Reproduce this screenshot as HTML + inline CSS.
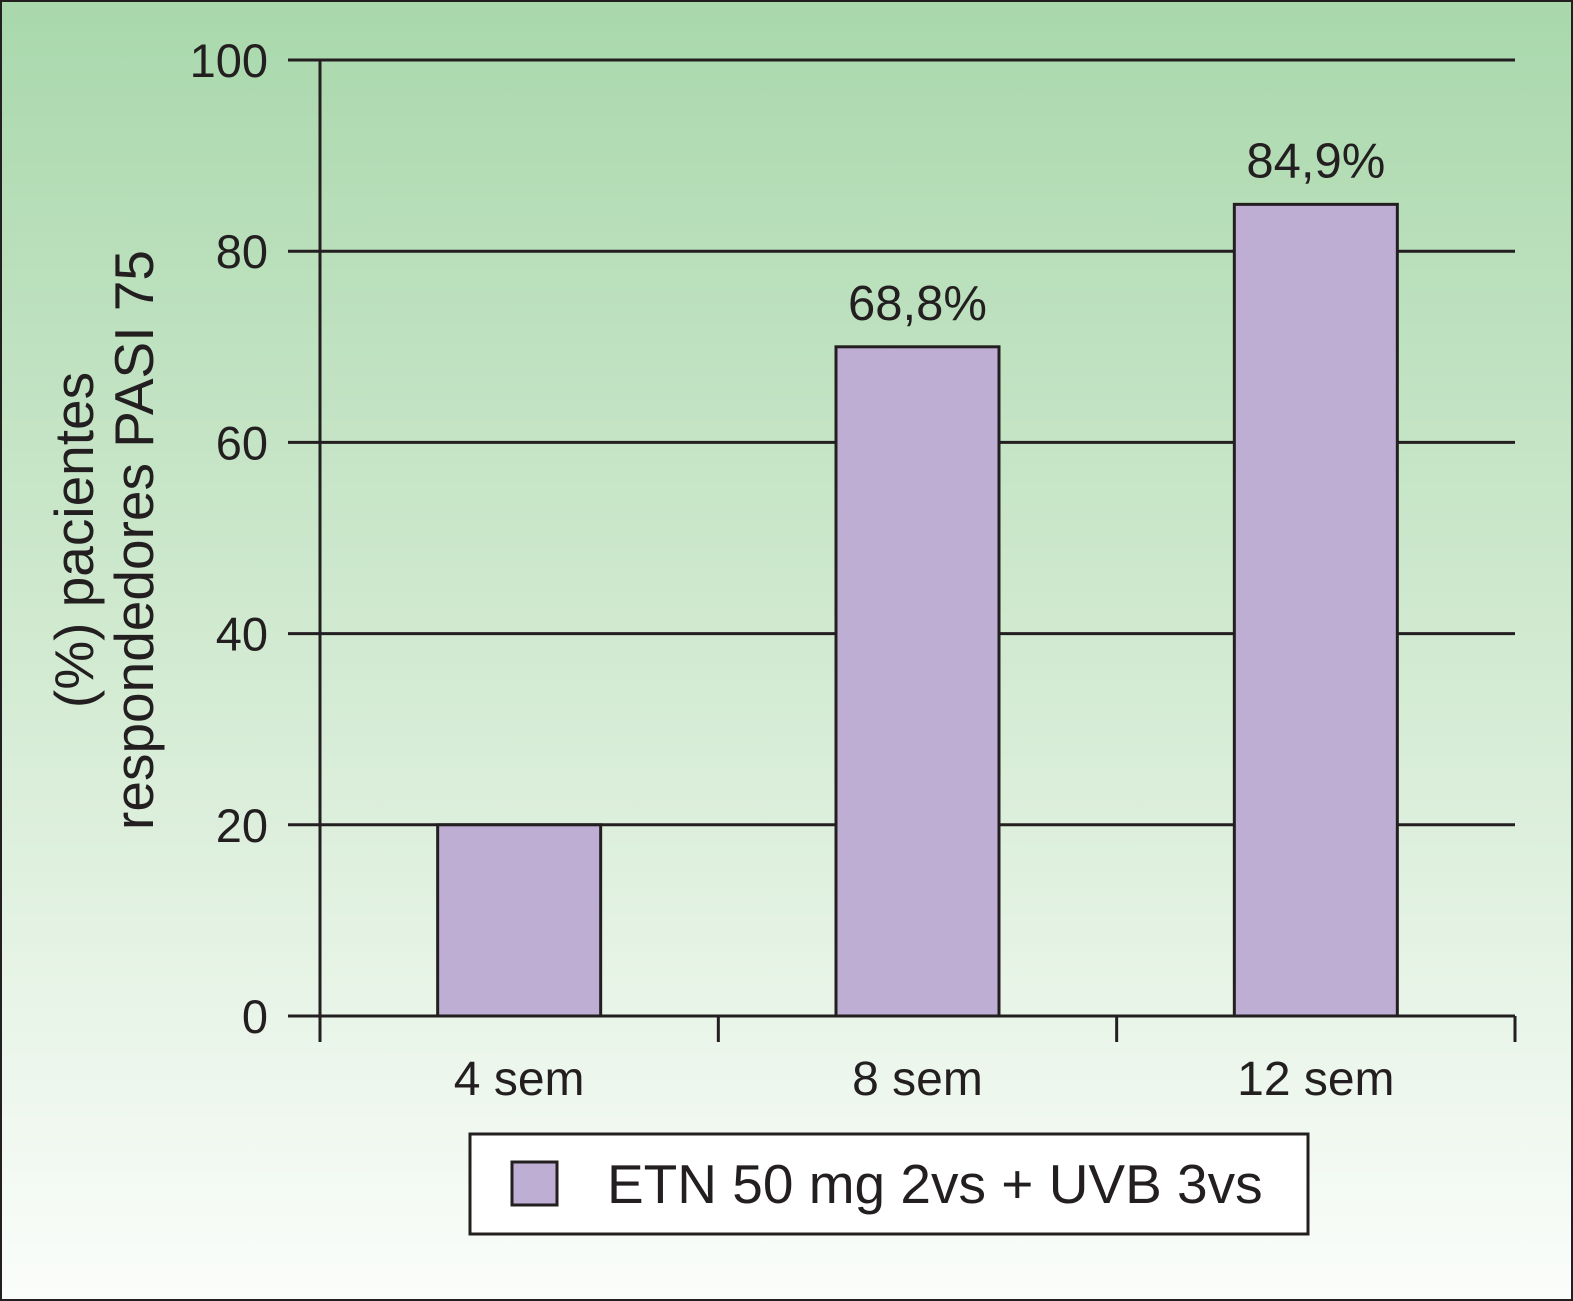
<!DOCTYPE html>
<html><head><meta charset="utf-8"><style>
html,body{margin:0;padding:0;}
body{width:1573px;height:1301px;overflow:hidden;}
svg{display:block;font-family:"Liberation Sans",Arial,sans-serif;}
</style></head><body>
<svg id="chart" width="1573" height="1301">
<defs><linearGradient id="bg" x1="0" y1="0" x2="0" y2="1">
<stop offset="0" stop-color="#a9d8ac"/><stop offset="0.55" stop-color="#d6ecd5"/><stop offset="1" stop-color="#fbfdfb"/></linearGradient></defs>
<rect x="1" y="1" width="1571" height="1299" fill="url(#bg)" stroke="#231f20" stroke-width="2"/>
<g id="grid"></g><g id="bars"></g><g id="axes"></g>
<text transform="translate(93,540) rotate(-90)" text-anchor="middle" font-size="55" fill="#231f20"><tspan x="0" dy="0">(%) pacientes</tspan><tspan x="0" dy="60">respondedores PASI 75</tspan></text>
<g>
<rect x="470" y="1134" width="838" height="100" fill="#fff" stroke="#231f20" stroke-width="3"/>
<rect x="512" y="1162" width="45" height="43" fill="#bfaed4" stroke="#231f20" stroke-width="3"/>
<text x="607" y="1203" font-size="55" fill="#231f20">ETN 50 mg 2vs + UVB 3vs</text>
</g>
</svg>
<script>
const categories=["4 sem","8 sem","12 sem"];
const values=[20,70,84.9];
const valueLabels=["","68,8%","84,9%"];
const yTicks=[0,20,40,60,80,100];
const NS="http://www.w3.org/2000/svg";
const x0=320,x1=1515,yBase=1016,yTop=60;
const band=(x1-x0)/categories.length;
const y=v=>yBase-(v/100)*(yBase-yTop);
const xc=i=>x0+band*(i+0.5);
function mk(t,a,p){const e=document.createElementNS(NS,t);for(const k in a)e.setAttribute(k,a[k]);p.appendChild(e);return e;}
const grid=document.getElementById('grid'),bars=document.getElementById('bars'),axes=document.getElementById('axes');
yTicks.forEach(t=>{
 const l=mk('line',{x1:288,x2:x1,y1:y(t),y2:y(t),stroke:'#231f20','stroke-width':3},grid);
 
 
 const tx=mk('text',{x:268,y:y(t)+17,'text-anchor':'end','font-size':47,fill:'#231f20'},axes);
 tx.textContent=t;
 
 
});
const bw=163;
values.forEach((v,i)=>{
 const r=mk('rect',{x:xc(i)-bw/2,y:y(v),width:bw,height:yBase-y(v),fill:'#bfaed4',stroke:'#231f20','stroke-width':3},bars);
 
 
 if(valueLabels[i]){
  const t=mk('text',{x:xc(i),y:y(v)-27,'text-anchor':'middle','font-size':49,fill:'#231f20'},bars);
  t.textContent=valueLabels[i];
  
  
 }
 const c=mk('text',{x:xc(i),y:1095,'text-anchor':'middle','font-size':48,fill:'#231f20'},axes);
 c.textContent=categories[i];
 
 
});
const ya=mk('line',{x1:x0,x2:x0,y1:yTop,y2:1042,stroke:'#231f20','stroke-width':3},axes);


const xa=mk('line',{x1:x0,x2:x1,y1:yBase,y2:yBase,stroke:'#231f20','stroke-width':3},axes);


for(let i=1;i<=categories.length;i++){
 const t=mk('line',{x1:x0+band*i,x2:x0+band*i,y1:yBase,y2:1042,stroke:'#231f20','stroke-width':3},axes);
 
 
}
</script>
</body></html>
